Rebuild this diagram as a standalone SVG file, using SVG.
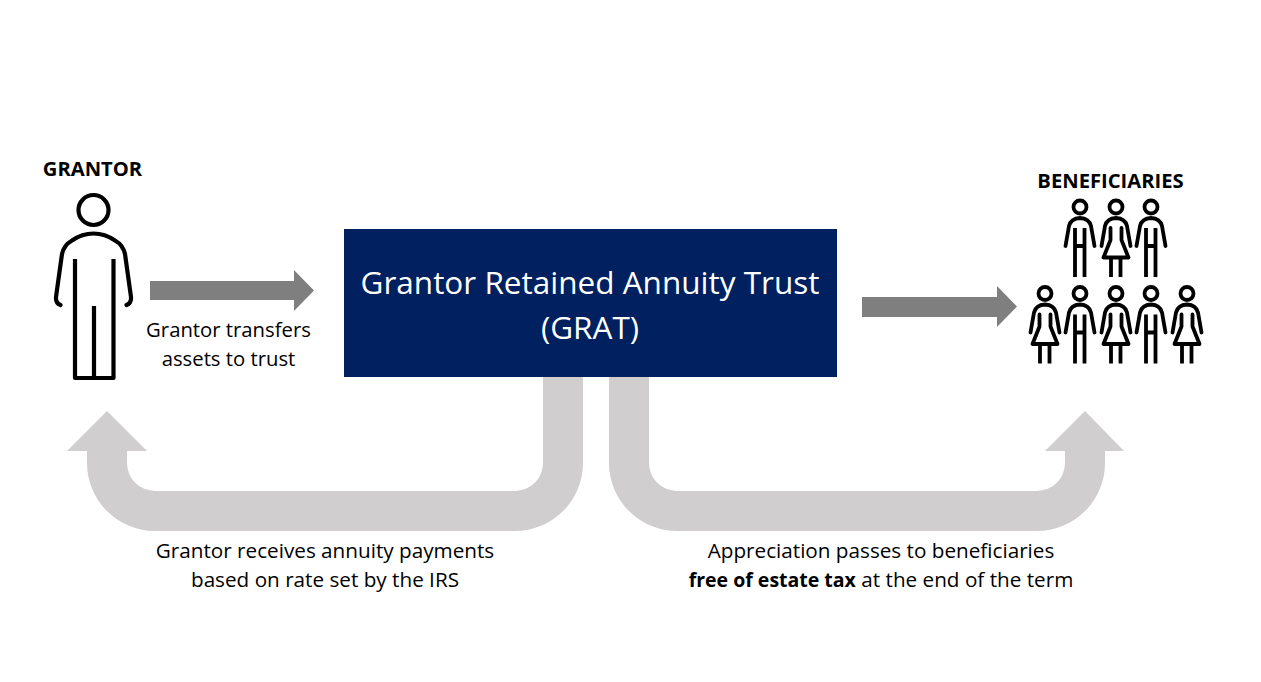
<svg xmlns="http://www.w3.org/2000/svg" xmlns:xlink="http://www.w3.org/1999/xlink" width="1261" height="682" viewBox="0 0 1261 682">
<style>
text{font-family:"Open Sans","Liberation Sans",sans-serif;fill:#000;text-anchor:middle}
.lab{font-size:20.7px}
.lab2{font-size:20.3px}
.hd{font-size:20.2px;font-weight:700}
.ttl{font-size:31.5px;fill:#fff}
.ink{fill:none;stroke:#000;stroke-linecap:round;stroke-linejoin:round}
.dark{fill:#7f7f7f}
.light{fill:#d0cece}
</style>
<defs>
<g id="man" class="ink" stroke-width="3.8">
<circle cx="0" cy="0" r="6.5"/>
<path d="M-14.500 39L-11 19Q-9 11.500 0 11Q9 11.500 11 19L14.500 39"/>
<path d="M-5 21V70M4.500 21V70M-5 39H4.500" stroke-linecap="butt"/>
</g>
<g id="woman" class="ink" stroke-width="3.8">
<circle cx="0" cy="0" r="6.5"/>
<path d="M-14.500 39L-11 19Q-9 11.500 0 11Q9 11.500 11 19L14.500 39"/>
<path d="M-5.500 21V33L-12.500 50.500H12.500L5.500 33V21"/>
<path d="M-5 50.500V70M4.500 50.500V70" stroke-linecap="butt"/>
</g>
</defs>
<rect width="1261" height="682" fill="#fff"/>
<g id="connectors">
<path class="dark" d="M150 281H294V270L314 290.500L294 311V300H150Z"/>
<path class="dark" d="M862 297H997V286L1017 306.500L997 327V317H862Z"/>
<path class="light" d="M543 377V463A28 28 0 0 1 515 491H155A28 28 0 0 1 127 463V451H147L107 411L67 451H87V463A68 68 0 0 0 155 531H515A68 68 0 0 0 583 463V377Z"/>
<path class="light" d="M609 377V463A68 68 0 0 0 677 531H1037A68 68 0 0 0 1105 463V451H1124L1085 411L1045 451H1065V463A28 28 0 0 1 1037 491H677A28 28 0 0 1 649 463V377Z"/>
</g>
<g id="grantor">
<text class="hd" x="92.500" y="175.500">GRANTOR</text>
<g class="ink" stroke-width="4.200">
<circle cx="93.500" cy="210" r="15"/>
<path d="M60.500 305Q55.500 303 56 297L62 254Q64 245 72 240.500Q82 233.500 93.500 233.500Q105 233.500 115 240.500Q123 245 125 254L131 297Q131.500 303 126.500 305"/>
<path d="M75 259V378H113.500V259M94 306V378" stroke-linecap="butt"/>
</g>
</g>
<g id="trust">
<rect x="344" y="229" width="493" height="148" fill="#002060"/>
<text class="ttl" x="590" y="294">Grantor Retained Annuity Trust</text>
<text class="ttl" x="590" y="339">(GRAT)</text>
</g>
<g id="beneficiaries">
<text class="hd" x="1110.500" y="188">BENEFICIARIES</text>
<use xlink:href="#man" href="#man" x="1080" y="207"/>
<use xlink:href="#woman" href="#woman" x="1116" y="207"/>
<use xlink:href="#man" href="#man" x="1151" y="207"/>
<use xlink:href="#woman" href="#woman" x="1045" y="293.500"/>
<use xlink:href="#man" href="#man" x="1080" y="293.500"/>
<use xlink:href="#woman" href="#woman" x="1116" y="293.500"/>
<use xlink:href="#man" href="#man" x="1151" y="293.500"/>
<use xlink:href="#woman" href="#woman" x="1187" y="293.500"/>
</g>
<g id="labels">
<text class="lab2" x="228.500" y="337">Grantor transfers</text>
<text class="lab2" x="228.500" y="366">assets to trust</text>
<text class="lab" x="325" y="558">Grantor receives annuity payments</text>
<text class="lab" x="325" y="587">based on rate set by the IRS</text>
<text class="lab" x="881" y="558">Appreciation passes to beneficiaries</text>
<text class="lab" x="881" y="587" font-size="21"><tspan font-weight="700" font-size="19.500">free of estate tax</tspan> at the end of the term</text>
</g>
</svg>
